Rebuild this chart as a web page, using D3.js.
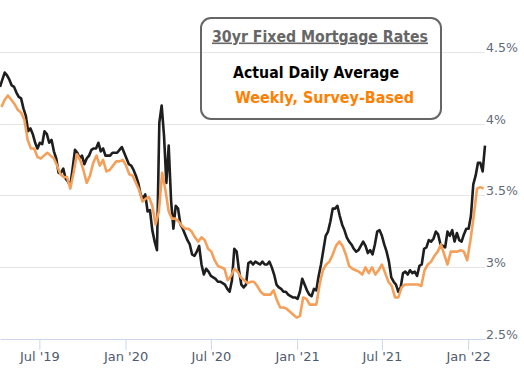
<!DOCTYPE html>
<html><head><meta charset="utf-8">
<script src="https://cdn.jsdelivr.net/npm/d3@7"></script>
<style>html,body{margin:0;padding:0;background:#fff;overflow:hidden}</style>
</head><body><svg id="c" width="524" height="379"></svg>
<script>
// ---- data ----
const dailyStart = "2019-04-08";
const dailyStepDays = 5;
const dailyRates = [
4.26,4.31,4.36,4.34,4.31,4.27,4.26,4.22,4.19,4.18,
4.11,4.06,3.95,3.97,3.93,3.87,3.83,3.87,3.86,3.95,
3.93,3.87,3.89,3.81,3.76,3.66,3.66,3.69,3.62,3.60,
3.57,3.69,3.82,3.80,3.76,3.78,3.72,3.76,3.78,3.82,
3.83,3.83,3.87,3.81,3.83,3.78,3.78,3.78,3.80,3.80,
3.80,3.82,3.84,3.80,3.76,3.72,3.71,3.68,3.64,3.59,
3.51,3.48,3.51,3.39,3.40,3.26,3.18,3.12,4.01,4.13,
3.92,3.59,3.85,3.47,3.27,3.43,3.41,3.30,3.27,3.23,
3.19,3.16,3.09,3.08,3.11,3.15,3.02,2.95,2.99,2.97,
2.94,2.93,2.92,2.90,2.90,2.89,2.88,2.85,2.83,2.91,
3.13,3.11,2.98,2.88,2.86,2.88,3.03,3.04,3.02,3.04,
3.03,3.02,3.04,3.02,3.02,3.04,3.00,2.95,2.88,2.86,
2.85,2.83,2.83,2.81,2.80,2.79,2.79,2.78,2.83,2.92,
2.88,2.84,2.81,2.80,2.85,2.84,2.94,3.02,3.12,3.22,
3.25,3.32,3.41,3.41,3.43,3.36,3.30,3.26,3.21,3.18,
3.16,3.13,3.11,3.12,3.15,3.18,3.15,3.10,3.12,3.09,
3.16,3.25,3.26,3.22,3.16,3.11,3.04,2.93,2.90,2.88,
2.83,2.86,2.96,2.97,2.95,2.98,2.96,2.97,2.94,3.01,
3.02,3.13,3.14,3.19,3.18,3.20,3.25,3.23,3.16,3.15,
3.14,3.25,3.22,3.26,3.18,3.24,3.19,3.18,3.23,3.27,
3.27,3.36,3.58,3.64,3.73,3.73,3.67,3.85
];
const weeklyStart = "2019-04-11";
const weeklyStepDays = 7;
const weeklyRates = [
4.12,4.17,4.20,4.17,4.14,4.10,4.08,4.03,3.89,3.83,
3.83,3.77,3.76,3.78,3.80,3.78,3.76,3.71,3.65,3.63,
3.63,3.55,3.66,3.79,3.75,3.68,3.59,3.64,3.73,3.78,
3.71,3.75,3.67,3.68,3.71,3.74,3.74,3.75,3.71,3.65,
3.64,3.59,3.54,3.46,3.48,3.49,3.43,3.30,3.39,3.66,
3.54,3.39,3.34,3.34,3.32,3.29,3.27,3.27,3.25,3.21,
3.18,3.21,3.19,3.13,3.11,3.05,3.01,3.00,2.99,2.91,
2.94,2.99,2.97,2.93,2.91,2.89,2.90,2.90,2.87,2.83,
2.81,2.81,2.81,2.84,2.77,2.72,2.72,2.71,2.69,2.67,
2.65,2.66,2.79,2.78,2.74,2.74,2.74,2.88,2.98,3.02,
3.04,3.09,3.15,3.18,3.15,3.09,3.01,2.99,2.98,2.97,
2.95,3.00,2.96,3.00,2.95,2.98,3.02,2.96,2.90,2.87,
2.79,2.79,2.86,2.88,2.88,2.88,2.88,2.88,2.87,2.98,
3.02,3.04,3.08,3.11,3.16,3.09,3.02,3.11,3.11,3.11,
3.12,3.11,3.05,3.19,3.36,3.55,3.56,3.55
];
const yTickValues = [2.5, 3, 3.5, 4, 4.5];
const xTickDates = ["2019-07-01","2020-01-01","2020-07-01","2021-01-01","2021-07-01","2022-01-01"];
const xTickLabels = ["Jul '19","Jan '20","Jul '20","Jan '21","Jul '21","Jan '22"];
const legendTitle = "30yr Fixed Mortgage Rates";
const seriesNames = ["Actual Daily Average", "Weekly, Survey-Based"];

// ---- build ----
const parse = d3.utcParse("%Y-%m-%d");
const daily = dailyRates.map((v, i) => ({date: d3.utcDay.offset(parse(dailyStart), i * dailyStepDays), v}));
const weekly = weeklyRates.map((v, i) => ({date: d3.utcDay.offset(parse(weeklyStart), i * weeklyStepDays), v}));

const svg = d3.select("#c");
const W = 485;
const x = d3.scaleUtc().domain([parse("2019-04-08"), parse("2022-02-06")]).range([0, W]);
const y = d3.scaleLinear().domain([2.5, 4.5]).range([339, 52.5]);

// gridlines
svg.append("g").selectAll("line").data(yTickValues.filter(d => d > 2.5)).join("line")
  .attr("x1", 0).attr("x2", W)
  .attr("y1", d => Math.floor(y(d)) + 0.5).attr("y2", d => Math.floor(y(d)) + 0.5)
  .attr("stroke", "#e6e6e6").attr("stroke-width", 1);

// x axis
const xa = svg.append("g").attr("transform", "translate(0,339)")
  .call(d3.axisBottom(x).tickValues(xTickDates.map(parse))
    .tickFormat((d, i) => xTickLabels[i]).tickSizeInner(11).tickSizeOuter(0).tickPadding(2));
xa.select(".domain").attr("stroke", "#ccd6eb");
xa.selectAll(".tick line").attr("stroke", "#ccd6eb");
xa.selectAll("text").attr("fill", "#4f5b6e").attr("font-family", "DejaVu Sans, sans-serif").attr("font-size", 13);

// y axis (labels only, right side)
const ya = svg.append("g").attr("transform", `translate(${W},0)`)
  .call(d3.axisRight(y).tickValues(yTickValues).tickSize(0).tickPadding(1)
    .tickFormat(d => d + "%"));
ya.select(".domain").remove();
ya.selectAll("text").attr("dy", 0).attr("y", -1)
  .attr("fill", "#5f6b7a").attr("font-family", "DejaVu Sans, sans-serif").attr("font-size", 12.5);

// lines
const line = d3.line().x(d => x(d.date)).y(d => y(d.v));
svg.append("path").datum(daily).attr("d", line)
  .attr("fill", "none").attr("stroke", "#1e1e1e").attr("stroke-width", 2.6).attr("stroke-linejoin", "round");
svg.append("path").datum(weekly).attr("d", line)
  .attr("fill", "none").attr("stroke", "#f5a05a").attr("stroke-width", 2.6).attr("stroke-linejoin", "round");

// legend box
const lg = svg.append("g");
lg.append("rect").attr("x", 201).attr("y", 18).attr("width", 240).attr("height", 101).attr("rx", 10)
  .attr("fill", "none").attr("stroke", "#666").attr("stroke-width", 2);
lg.append("text").attr("x", 320).attr("y", 41.5).attr("text-anchor", "middle")
  .attr("font-family", "DejaVu Sans, sans-serif").attr("font-weight", "bold").attr("font-size", 16)
  .attr("textLength", 216).attr("lengthAdjust", "spacingAndGlyphs")
  .attr("fill", "#666").attr("text-decoration", "underline").text(legendTitle);
lg.append("text").attr("x", 316).attr("y", 77.5).attr("text-anchor", "middle")
  .attr("font-family", "DejaVu Sans, sans-serif").attr("font-weight", "bold").attr("font-size", 15)
  .attr("textLength", 166).attr("lengthAdjust", "spacingAndGlyphs")
  .attr("fill", "#000").text(seriesNames[0]);
lg.append("text").attr("x", 324.5).attr("y", 103.3).attr("text-anchor", "middle")
  .attr("font-family", "DejaVu Sans, sans-serif").attr("font-weight", "bold").attr("font-size", 15)
  .attr("textLength", 179).attr("lengthAdjust", "spacingAndGlyphs")
  .attr("fill", "#ff7f00").text(seriesNames[1]);
</script>
</body></html>
